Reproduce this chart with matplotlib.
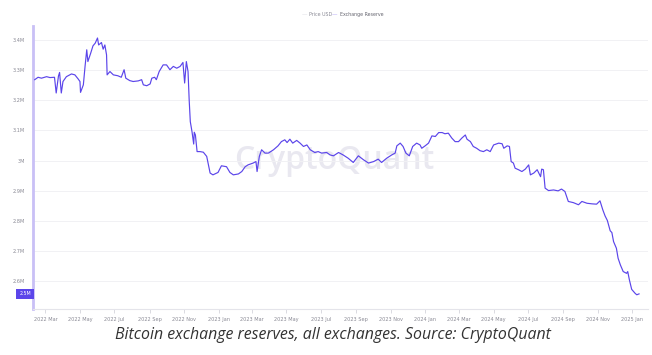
import matplotlib
matplotlib.use("Agg")
import matplotlib.pyplot as plt
import matplotlib.dates as mdates
import numpy as np
import pandas as pd

# Exchange reserve (BTC, millions)
dates = [
    "2022-02-10", "2022-02-16", "2022-02-22", "2022-03-03", "2022-03-09", "2022-03-17",
    "2022-03-20", "2022-03-24", "2022-03-26", "2022-03-29", "2022-04-01", "2022-04-07",
    "2022-04-16", "2022-04-22", "2022-04-28", "2022-05-01", "2022-05-02", "2022-05-07",
    "2022-05-10", "2022-05-13", "2022-05-15", "2022-05-20", "2022-05-24", "2022-05-28",
    "2022-06-01", "2022-06-03", "2022-06-08", "2022-06-11", "2022-06-14", "2022-06-17",
    "2022-06-18", "2022-06-23", "2022-06-29", "2022-07-07", "2022-07-13", "2022-07-18",
    "2022-07-21", "2022-07-28", "2022-08-03", "2022-08-12", "2022-08-18", "2022-08-21",
    "2022-08-27", "2022-09-02", "2022-09-05", "2022-09-10", "2022-09-13", "2022-09-18",
    "2022-09-25", "2022-10-01", "2022-10-07", "2022-10-13", "2022-10-19", "2022-10-25",
    "2022-10-30", "2022-11-02", "2022-11-05", "2022-11-08", "2022-11-10", "2022-11-12",
    "2022-11-15", "2022-11-18", "2022-11-19", "2022-11-21", "2022-11-24", "2022-11-29",
    "2022-12-05", "2022-12-11", "2022-12-14", "2022-12-17", "2022-12-22", "2022-12-31",
    "2023-01-06", "2023-01-15", "2023-01-21", "2023-01-27", "2023-02-05", "2023-02-11",
    "2023-02-17", "2023-02-22", "2023-03-03", "2023-03-08", "2023-03-10", "2023-03-14",
    "2023-03-18", "2023-03-24", "2023-03-30", "2023-04-08", "2023-04-16", "2023-04-22",
    "2023-04-28", "2023-05-02", "2023-05-07", "2023-05-12", "2023-05-19", "2023-05-25",
    "2023-05-31", "2023-06-06", "2023-06-12", "2023-06-20", "2023-06-26", "2023-07-02",
    "2023-07-11", "2023-07-17", "2023-07-23", "2023-08-01", "2023-08-09", "2023-08-18",
    "2023-08-27", "2023-09-05", "2023-09-14", "2023-09-23", "2023-10-02", "2023-10-10",
    "2023-10-16", "2023-10-25", "2023-11-03", "2023-11-09", "2023-11-12", "2023-11-18",
    "2023-11-23", "2023-11-28", "2023-12-04", "2023-12-10", "2023-12-17", "2023-12-23",
    "2023-12-26", "2024-01-01", "2024-01-07", "2024-01-13", "2024-01-19", "2024-01-25",
    "2024-01-31", "2024-02-05", "2024-02-11", "2024-02-17", "2024-02-23", "2024-02-29",
    "2024-03-06", "2024-03-12", "2024-03-15", "2024-03-21", "2024-03-26", "2024-04-01",
    "2024-04-07", "2024-04-13", "2024-04-19", "2024-04-25", "2024-05-01", "2024-05-10",
    "2024-05-16", "2024-05-19", "2024-05-25", "2024-05-29", "2024-06-01", "2024-06-05",
    "2024-06-08", "2024-06-14", "2024-06-20", "2024-06-26", "2024-07-02", "2024-07-05",
    "2024-07-11", "2024-07-17", "2024-07-23", "2024-07-25", "2024-07-28", "2024-07-31",
    "2024-08-06", "2024-08-15", "2024-08-23", "2024-08-29", "2024-09-04", "2024-09-10",
    "2024-09-19", "2024-09-28", "2024-10-04", "2024-10-13", "2024-10-22", "2024-10-30",
    "2024-11-05", "2024-11-10", "2024-11-14", "2024-11-18", "2024-11-23", "2024-11-26",
    "2024-11-29", "2024-12-04", "2024-12-07", "2024-12-11", "2024-12-16", "2024-12-22",
    "2024-12-24", "2024-12-27", "2024-12-31", "2025-01-06", "2025-01-09", "2025-01-13",
]
reserve_m = [
    3.268, 3.276, 3.273, 3.278, 3.275, 3.276,
    3.224, 3.280, 3.292, 3.224, 3.262, 3.278,
    3.287, 3.284, 3.270, 3.262, 3.226, 3.251,
    3.312, 3.367, 3.328, 3.356, 3.380, 3.389,
    3.406, 3.383, 3.391, 3.369, 3.383, 3.350,
    3.284, 3.295, 3.284, 3.281, 3.276, 3.301,
    3.273, 3.265, 3.262, 3.264, 3.268, 3.251,
    3.248, 3.254, 3.273, 3.276, 3.268, 3.295,
    3.317, 3.317, 3.301, 3.312, 3.306, 3.312,
    3.325, 3.257, 3.328, 3.295, 3.201, 3.129,
    3.096, 3.055, 3.094, 3.085, 3.030, 3.030,
    3.028, 3.014, 2.986, 2.959, 2.953, 2.961,
    2.983, 2.980, 2.961, 2.953, 2.956, 2.964,
    2.980, 2.986, 2.992, 2.997, 2.964, 3.014,
    3.036, 3.025, 3.025, 3.036, 3.049, 3.063,
    3.069, 3.060, 3.071, 3.058, 3.067, 3.058,
    3.047, 3.052, 3.036, 3.027, 3.030, 3.025,
    3.027, 3.019, 3.016, 3.027, 3.019, 3.008,
    2.994, 3.016, 3.003, 2.992, 2.997, 3.005,
    2.994, 3.008, 3.019, 3.025, 3.049, 3.058,
    3.047, 3.025, 3.016, 3.047, 3.058, 3.052,
    3.041, 3.049, 3.058, 3.082, 3.080, 3.093,
    3.093, 3.089, 3.091, 3.075, 3.063, 3.063,
    3.075, 3.085, 3.071, 3.063, 3.047, 3.041,
    3.033, 3.030, 3.036, 3.030, 3.052, 3.058,
    3.056, 3.041, 3.049, 3.047, 2.997, 2.992,
    2.975, 2.970, 2.964, 2.972, 2.986, 2.953,
    2.959, 2.970, 2.947, 2.972, 2.970, 2.909,
    2.901, 2.903, 2.900, 2.906, 2.898, 2.865,
    2.861, 2.854, 2.865, 2.859, 2.857, 2.856,
    2.867, 2.837, 2.817, 2.802, 2.768, 2.762,
    2.732, 2.710, 2.677, 2.655, 2.633, 2.627,
    2.633, 2.605, 2.574, 2.561, 2.556, 2.559,
]
y_ticks = [2.6, 2.7, 2.8, 2.9, 3.0, 3.1, 3.2, 3.3, 3.4]
y_tick_labels = ["2.6M", "2.7M", "2.8M", "2.9M", "3M", "3.1M", "3.2M", "3.3M", "3.4M"]
x_ticks = pd.date_range("2022-03-01", "2025-01-01", freq="2MS")
current_label = "2.5M"
caption = "Bitcoin exchange reserves, all exchanges. Source: CryptoQuant"

LINE = "#5b45ea"
GRID = "#f1f1f4"
TXT = "#8a8a95"

x = pd.to_datetime(dates)

fig = plt.figure(figsize=(6.52, 3.55), dpi=100)
ax = fig.add_axes([0.0506, 0.1296, 0.9434, 0.7974])

ax.plot(x, reserve_m, color=LINE, lw=0.85, zorder=3)

ax.set_xlim(pd.Timestamp("2022-02-07"), pd.Timestamp("2025-01-29"))
ax.set_ylim(2.509, 3.446)

ax.set_yticks(y_ticks)
ax.set_yticklabels(y_tick_labels)
ax.set_xticks(x_ticks)
ax.xaxis.set_major_formatter(mdates.DateFormatter("%Y %b"))
ax.tick_params(axis="y", length=0, labelsize=3.6, labelcolor=TXT, pad=6)
ax.tick_params(axis="x", length=3, width=0.6, color="#d5d5dc", labelsize=3.6,
               labelcolor=TXT, pad=3)
ax.grid(axis="y", color=GRID, lw=0.7, zorder=0)

for side in ("top", "right"):
    ax.spines[side].set_visible(False)
ax.spines["bottom"].set_color("#e4e4ea")
ax.spines["bottom"].set_linewidth(0.8)
ax.spines["left"].set_color("#c9c0f6")
ax.spines["left"].set_linewidth(2.0)

# current-value tag on the left axis
ax.annotate(current_label, xy=(0, reserve_m[-1]), xycoords=("axes fraction", "data"),
            xytext=(-1.5, 0), textcoords="offset points", ha="right", va="center",
            fontsize=3.4, color="white",
            bbox=dict(boxstyle="square,pad=0.6", fc="#5b45ea", ec="none"))

# watermark
ax.text(0.49, 0.525, "CryptoQuant", transform=ax.transAxes, ha="center", va="center",
        fontsize=23, color="#e9e8f0", family="Open Sans", fontweight="semibold",
        zorder=1)

# legend
fig.text(0.463, 0.958, "—", color="#d9d9e0", fontsize=4, ha="left", va="center")
fig.text(0.474, 0.958, "Price USD", color=TXT, fontsize=3.4, ha="left", va="center")
fig.text(0.509, 0.958, "—", color="#a99cf5", fontsize=4, ha="left", va="center")
fig.text(0.522, 0.958, "Exchange Reserve", color="#666670", fontsize=3.4, ha="left",
         va="center")

fig.text(0.511, 0.057, caption, ha="center", va="center", fontsize=11.4,
         style="italic", family="Open Sans", color="#333333")

fig.savefig("out.png", dpi=100)
